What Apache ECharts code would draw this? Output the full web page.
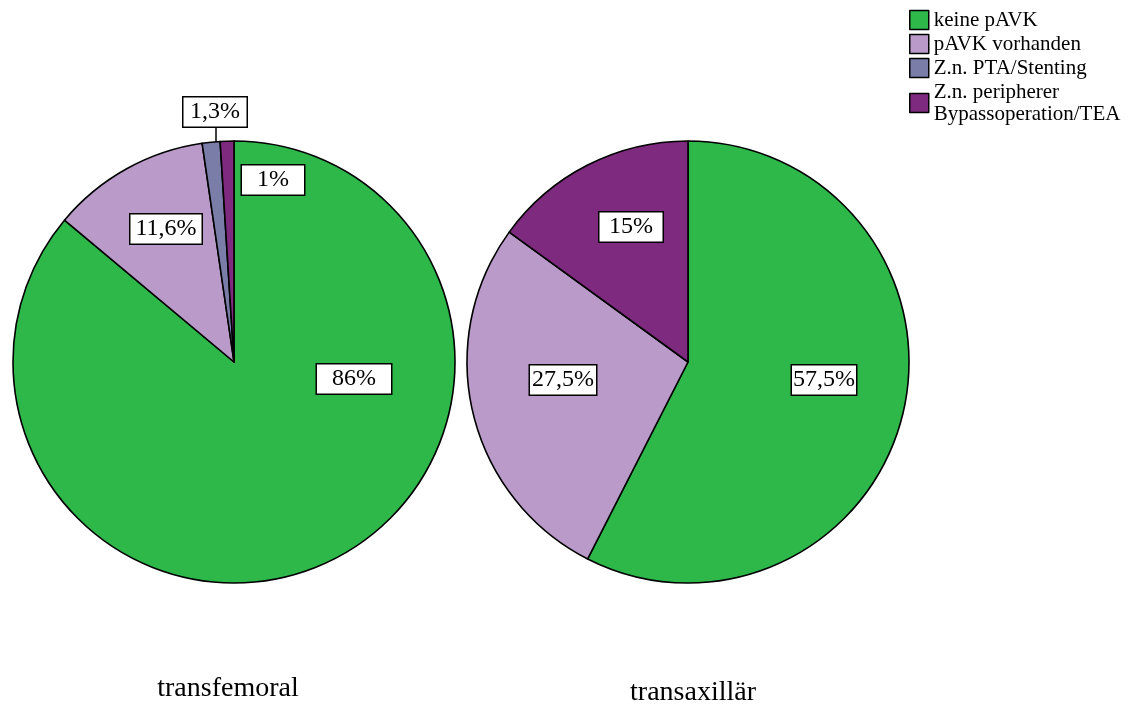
<!DOCTYPE html>
<html>
<head>
<meta charset="utf-8">
<script src="https://cdn.jsdelivr.net/npm/echarts@6/dist/echarts.min.js"></script>
<style>
  html, body { margin: 0; padding: 0; background: #fff; }
  #chart { width: 1135px; height: 706px; }
</style>
</head>
<body>
<div id="chart"></div>
<script>
// Categories (legend order)
const categories = ['keine pAVK', 'pAVK vorhanden', 'Z.n. PTA/Stenting', 'Z.n. peripherer\nBypassoperation/TEA'];
const colors = ['#2eb84a', '#b99ac9', '#7b7da9', '#7e2a7e'];

// Percent shares per access route
const femoralValues = [86, 11.6, 1.3, 1];
const axillaryValues = [57.5, 27.5, 15];          // no PTA/Stenting cases
const axillaryCats = [0, 1, 3];                     // category index of each axillary value

const groupTitles = ['transfemoral', 'transaxillär'];

// Label box placement (per slice) and box widths
const femoralLabelSpots = [[354, 379], [166, 229], [215, 112], [273, 180]];
const femoralBoxWidths = [74, 71, 63, 62];
const axillaryLabelSpots = [[824, 380], [563, 380], [631, 227]];
const axillaryBoxWidths = [64, 66, 63];
// Leader lines for the two thin slices
const femoralLeaders = { 2: [[216, 128], [216, 135], [216, 143]], 3: [[238, 196], [237, 203], [236, 210]] };

const serif = '"Liberation Serif", "Times New Roman", serif';

function fmt(v) { return String(v).replace('.', ',') + '%'; }

function buildData(values, catIdx, widths, leaders) {
  return values.map((v, i) => {
    const c = catIdx[i];
    return {
      name: categories[c],
      value: v,
      itemStyle: { color: colors[c] },
      label: { width: widths[i] },
      labelLine: { show: !!(leaders && leaders[i]) }
    };
  });
}

const labelStyle = {
  show: true,
  position: 'outside',
  formatter: p => fmt(p.value),
  fontFamily: serif,
  fontSize: 24,
  color: '#000',
  lineHeight: 26,
  align: 'center',
  backgroundColor: '#fff',
  borderColor: '#000',
  borderWidth: 1.5,
  padding: [2, 0, 1, 0]
};

function pieSeries(center, values, catIdx, spots, widths, leaders) {
  return {
    type: 'pie',
    center: center,
    radius: 221,
    startAngle: 90,
    clockwise: true,
    avoidLabelOverlap: false,
    silent: true,
    animation: false,
    itemStyle: { borderColor: '#000', borderWidth: 1.6 },
    label: labelStyle,
    labelLine: { show: false, lineStyle: { color: '#000', width: 1.5 } },
    labelLayout: params => {
      const s = spots[params.dataIndex];
      const out = { x: s[0], y: s[1], align: 'center', verticalAlign: 'middle' };
      if (leaders && leaders[params.dataIndex]) out.labelLinePoints = leaders[params.dataIndex];
      return out;
    },
    data: buildData(values, catIdx, widths, leaders)
  };
}

const chart = echarts.init(document.getElementById('chart'), null, { renderer: 'canvas' });
chart.setOption({
  backgroundColor: '#fff',
  animation: false,
  title: [
    { text: groupTitles[0], left: 228, top: 675, textAlign: 'center', padding: 0,
      textStyle: { fontFamily: serif, fontSize: 28, fontWeight: 'normal', color: '#000' } },
    { text: groupTitles[1], left: 693, top: 679, textAlign: 'center', padding: 0,
      textStyle: { fontFamily: serif, fontSize: 28, fontWeight: 'normal', color: '#000' } }
  ],
  legend: {
    orient: 'vertical',
    left: 909,
    top: 9,
    padding: 0,
    itemWidth: 19,
    itemHeight: 19,
    itemGap: 2,
    icon: 'rect',
    selectedMode: false,
    data: categories,
    itemStyle: { borderColor: '#000', borderWidth: 1.5 },
    textStyle: { fontFamily: serif, fontSize: 21, lineHeight: 22, color: '#000' }
  },
  series: [
    pieSeries([234, 362], femoralValues, [0, 1, 2, 3], femoralLabelSpots, femoralBoxWidths, femoralLeaders),
    pieSeries([688, 362], axillaryValues, axillaryCats, axillaryLabelSpots, axillaryBoxWidths, null)
  ]
});
</script>
</body>
</html>
